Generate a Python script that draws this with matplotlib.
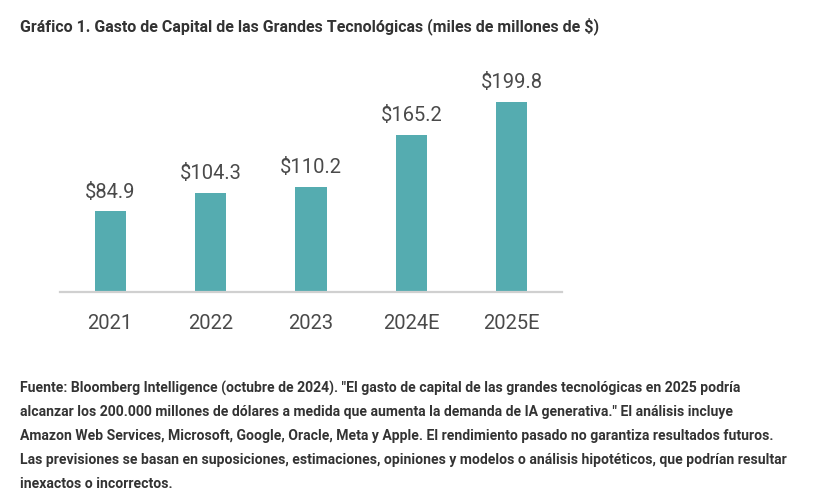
import matplotlib.pyplot as plt

# data
years = ["2021", "2022", "2023", "2024E", "2025E"]
capex = [84.9, 104.3, 110.2, 165.2, 199.8]

title = "Gráfico 1. Gasto de Capital de las Grandes Tecnológicas (miles de millones de $)"
source_lines = [
    'Fuente: Bloomberg Intelligence (octubre de 2024). "El gasto de capital de las grandes tecnológicas en 2025 podría',
    'alcanzar los 200.000 millones de dólares a medida que aumenta la demanda de IA generativa." El análisis incluye',
    'Amazon Web Services, Microsoft, Google, Oracle, Meta y Apple. El rendimiento pasado no garantiza resultados futuros.',
    'Las previsiones se basan en suposiciones, estimaciones, opiniones y modelos o análisis hipotéticos, que podrían resultar',
    'inexactos o incorrectos.',
]

W, H = 829, 504
fig = plt.figure(figsize=(W / 100, H / 100), dpi=100)

# axes placed in pixel coords: baseline at y=292, x from 60 to 562
ymax = 210
px_per_unit = 0.951
ax = fig.add_axes([60 / W, 1 - 292 / H, 502 / W, ymax * px_per_unit / H])
x = range(len(years))
ax.bar(x, capex, width=0.31, color="#55acb0")
ax.set_xlim(-0.5, 4.5)
ax.set_ylim(0, ymax)

for xi, v in zip(x, capex):
    ax.annotate(f"${v:.1f}", (xi, v), xytext=(0, 7), textcoords="offset points",
                ha="center", va="bottom", fontsize=14.5, color="#4a4a4a",
                family="Roboto", clip_on=False)

for s in ["top", "right", "left"]:
    ax.spines[s].set_visible(False)
ax.spines["bottom"].set_color("#d0d0d0")
ax.spines["bottom"].set_linewidth(1.6)
ax.set_yticks([])
ax.set_xticks(list(x))
ax.set_xticklabels(years, fontsize=14.5, color="#4a4a4a", family="Roboto")
ax.tick_params(axis="x", length=0, pad=16)

fig.text(20 / W, 1 - 26 / H, title, fontsize=11.5, weight="bold", color="#333333",
         family="Roboto", va="center", ha="left")

for i, line in enumerate(source_lines):
    fig.text(20 / W, 1 - (388 + 24 * i) / H, line, fontsize=10.1, weight="bold",
             color="#333333", family="Roboto", va="center", ha="left")

fig.savefig("out.png", dpi=100)
